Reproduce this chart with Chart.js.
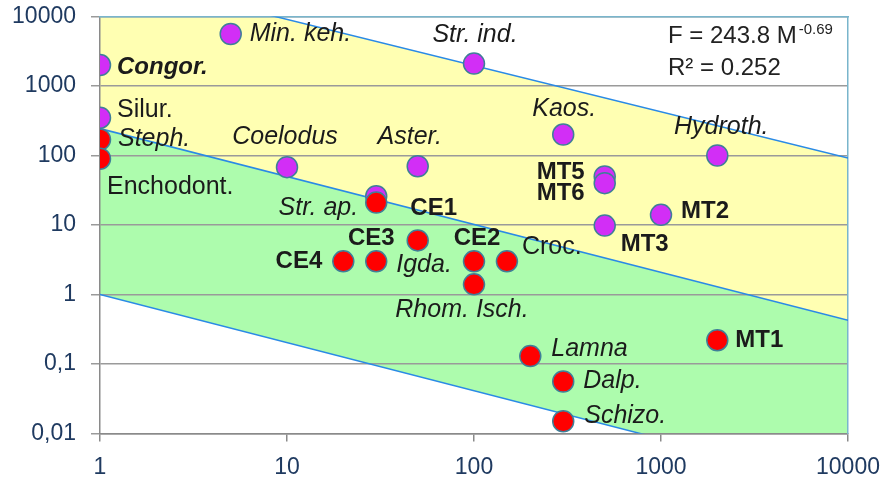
<!DOCTYPE html>
<html><head><meta charset="utf-8">
<script src="https://cdn.jsdelivr.net/npm/chart.js@4.4.1/dist/chart.umd.min.js"></script>
<style>html,body{margin:0;padding:0;background:#fff;}#wrap{width:885px;height:481px;position:relative;}</style>
</head><body><div id="wrap"><canvas id="c"></canvas></div>
<script>
// ---- data ----
const massTicks = [1, 10, 100, 1000, 10000];
const massTickLabels = ['1', '10', '100', '1000', '10000'];
const rateTicks = [0.01, 0.1, 1, 10, 100, 1000, 10000];
const rateTickLabels = ['0,01', '0,1', '1', '10', '100', '1000', '10000'];

const purpleNames = ['Congor.', 'Min. keh.', 'Str. ind.', 'Silur.', 'Kaos.', 'Hydroth.', 'Coelodus', 'Aster.', 'MT5', 'MT6', 'MT2', 'MT3', 'Str. ap.'];
const purpleMass  = [1, 5, 100, 1, 300, 2000, 10, 50, 500, 500, 1000, 500, 30];
const purpleRate  = [2000, 5600, 2100, 350, 200, 100, 68, 70, 50, 40, 14, 9.8, 26];

const redNames = ['Steph.', 'Enchodont.', '', 'CE1', 'CE4', 'CE3', 'CE2', 'Croc.', 'Rhom. Isch.', 'Lamna', 'Dalp.', 'Schizo.', 'MT1'];
const redMass  = [1, 1, 30, 50, 20, 30, 100, 150, 100, 200, 300, 300, 2000];
const redRate  = [170, 90, 21, 6, 3, 3, 3, 3, 1.4, 0.13, 0.056, 0.015, 0.22];
const extraNames = ['Igda.'];   // second label on the CE3 point

const lineMass   = [1, 10000];
const upperLine  = [42000, 92];
const fitLine    = [243.8, 0.424];
const lowerLine  = [1, 0.0017];

const fitText = ['F = 243.8 M', '-0.69', 'R\u00B2 = 0.252'];

// ---- styling / placement ----
const FONT = '"Liberation Sans", Arial, sans-serif';
const fonts = {
  n: '25px ' + FONT, i: 'italic 25px ' + FONT, b: 'bold 24px ' + FONT, bi: 'italic bold 24px ' + FONT
};
// [dataset, index, name, dx, dy, align, style]
const placements = [
  [0, 0, redNames[0], 18, 0, 'left', 'i'],
  [0, 1, redNames[1], 7, 28, 'left', 'n'],
  [0, 3, redNames[3], 16, -32, 'center', 'b'],
  [0, 4, redNames[4], -21, 0, 'right', 'b'],
  [0, 5, redNames[5], -5, -23, 'center', 'b'],
  [0, 5, extraNames[0], 20, 4, 'left', 'i'],
  [0, 6, redNames[6], 3, -23, 'center', 'b'],
  [0, 7, redNames[7], 15, -14, 'left', 'n'],
  [0, 8, redNames[8], -12, 26, 'center', 'i'],
  [0, 9, redNames[9], 21, -7, 'left', 'i'],
  [0, 10, redNames[10], 20, 0, 'left', 'i'],
  [0, 11, redNames[11], 21, -5, 'left', 'i'],
  [0, 12, redNames[12], 18, 0, 'left', 'b'],
  [1, 0, purpleNames[0], 17, 2, 'left', 'bi'],
  [1, 1, purpleNames[1], 19, 0, 'left', 'i'],
  [1, 2, purpleNames[2], 1, -29, 'center', 'i'],
  [1, 3, purpleNames[3], 17, -8, 'left', 'n'],
  [1, 4, purpleNames[4], 1, -26, 'center', 'i'],
  [1, 5, purpleNames[5], 4, -28, 'center', 'i'],
  [1, 6, purpleNames[6], -2, -30, 'center', 'i'],
  [1, 7, purpleNames[7], -8, -29, 'center', 'i'],
  [1, 8, purpleNames[8], -20, -4, 'right', 'b'],
  [1, 9, purpleNames[9], -20, 10, 'right', 'b'],
  [1, 10, purpleNames[10], 20, -3, 'left', 'b'],
  [1, 11, purpleNames[11], 16, 19, 'left', 'b'],
  [1, 12, purpleNames[12], -18, 12, 'right', 'i']
];

const pts = (xs, ys) => xs.map((x, k) => ({x: x, y: ys[k]}));

const labelPlugin = {
  id: 'pointLabels',
  afterDatasetsDraw(chart) {
    const ctx = chart.ctx;
    ctx.save();
    ctx.textBaseline = 'middle';
    ctx.fillStyle = '#1b1b1b';
    for (const [ds, i, text, dx, dy, align, st] of placements) {
      const el = chart.getDatasetMeta(ds).data[i];
      ctx.font = fonts[st];
      ctx.textAlign = align;
      ctx.fillText(text, el.x + dx, el.y + dy);
    }
    const a = chart.chartArea;
    const x0 = a.right - 180;
    ctx.textAlign = 'left';
    ctx.fillStyle = '#222';
    ctx.font = '24px ' + FONT;
    ctx.fillText(fitText[0], x0, a.top + 20);
    const w = ctx.measureText(fitText[0]).width;
    ctx.font = '15px ' + FONT;
    ctx.fillText(fitText[1], x0 + w + 2, a.top + 13);
    ctx.font = '24px ' + FONT;
    ctx.fillText(fitText[2], x0, a.top + 52);
    ctx.restore();
  }
};

const pointStyle = (color) => ({
  type: 'scatter', backgroundColor: color, borderColor: '#3f7f98', borderWidth: 1.5,
  pointRadius: 10.5, pointHoverRadius: 10.5
});
const bandStyle = {
  type: 'line', borderColor: '#2a8ae6', borderWidth: 1.5, pointRadius: 0, tension: 0
};
const noPad = s => { s.paddingTop = 0; s.paddingBottom = 0; s.paddingLeft = 0; s.paddingRight = 0; };

new Chart(document.getElementById('c'), {
  type: 'scatter',
  data: {
    datasets: [
      Object.assign({label: 'red', data: pts(redMass, redRate)}, pointStyle('#ff0000')),
      Object.assign({label: 'purple', data: pts(purpleMass, purpleRate)}, pointStyle('#d22ef6')),
      Object.assign({label: 'upper', data: pts(lineMass, upperLine), fill: '+1', backgroundColor: '#ffffb2'}, bandStyle),
      Object.assign({label: 'fit', data: pts(lineMass, fitLine), fill: '+1', backgroundColor: '#adfcad'}, bandStyle),
      Object.assign({label: 'lower', data: pts(lineMass, lowerLine), fill: false}, bandStyle)
    ]
  },
  options: {
    responsive: true, maintainAspectRatio: false, animation: false,
    layout: {padding: {left: 0, right: 37, top: 16.5, bottom: 0}},
    plugins: {legend: {display: false}, tooltip: {enabled: false}, filler: {drawTime: 'beforeDraw'}},
    scales: {
      x: {
        type: 'logarithmic', position: 'bottom', min: 1, max: 10000,
        afterBuildTicks: s => { s.ticks = massTicks.map(v => ({value: v})); },
        afterFit: s => { s.height = 47.5; noPad(s); },
        ticks: {callback: (v, i) => massTickLabels[i], color: '#1f3a60', font: {family: FONT, size: 23}, padding: 12, maxRotation: 0, autoSkip: false},
        grid: {drawOnChartArea: false, drawTicks: true, tickLength: 8, color: '#8a8a8a', lineWidth: 1.5},
        border: {color: '#8a8a8a', width: 1.5}
      },
      y: {
        type: 'logarithmic', position: 'left', min: 0.01, max: 10000,
        afterBuildTicks: s => { s.ticks = rateTicks.map(v => ({value: v})); },
        afterFit: s => { s.width = 100; noPad(s); },
        ticks: {callback: (v, i) => rateTickLabels[i], color: '#1f3a60', font: {family: FONT, size: 23}, padding: 15, autoSkip: false},
        grid: {color: '#9a9a9a', lineWidth: 1.5, tickLength: 9},
        border: {color: '#8a8a8a', width: 1.5}
      },
      x2: {
        type: 'logarithmic', position: 'top', min: 1, max: 10000,
        afterFit: s => { s.height = 0; noPad(s); },
        ticks: {display: false},
        grid: {drawOnChartArea: false, drawTicks: false},
        border: {color: '#79b5cc', width: 1.5}
      },
      y2: {
        type: 'logarithmic', position: 'right', min: 0.01, max: 10000,
        afterFit: s => { s.width = 0; noPad(s); },
        ticks: {display: false},
        grid: {drawOnChartArea: false, drawTicks: false},
        border: {color: '#79b5cc', width: 1.5}
      }
    }
  },
  plugins: [labelPlugin]
});
</script></body></html>
